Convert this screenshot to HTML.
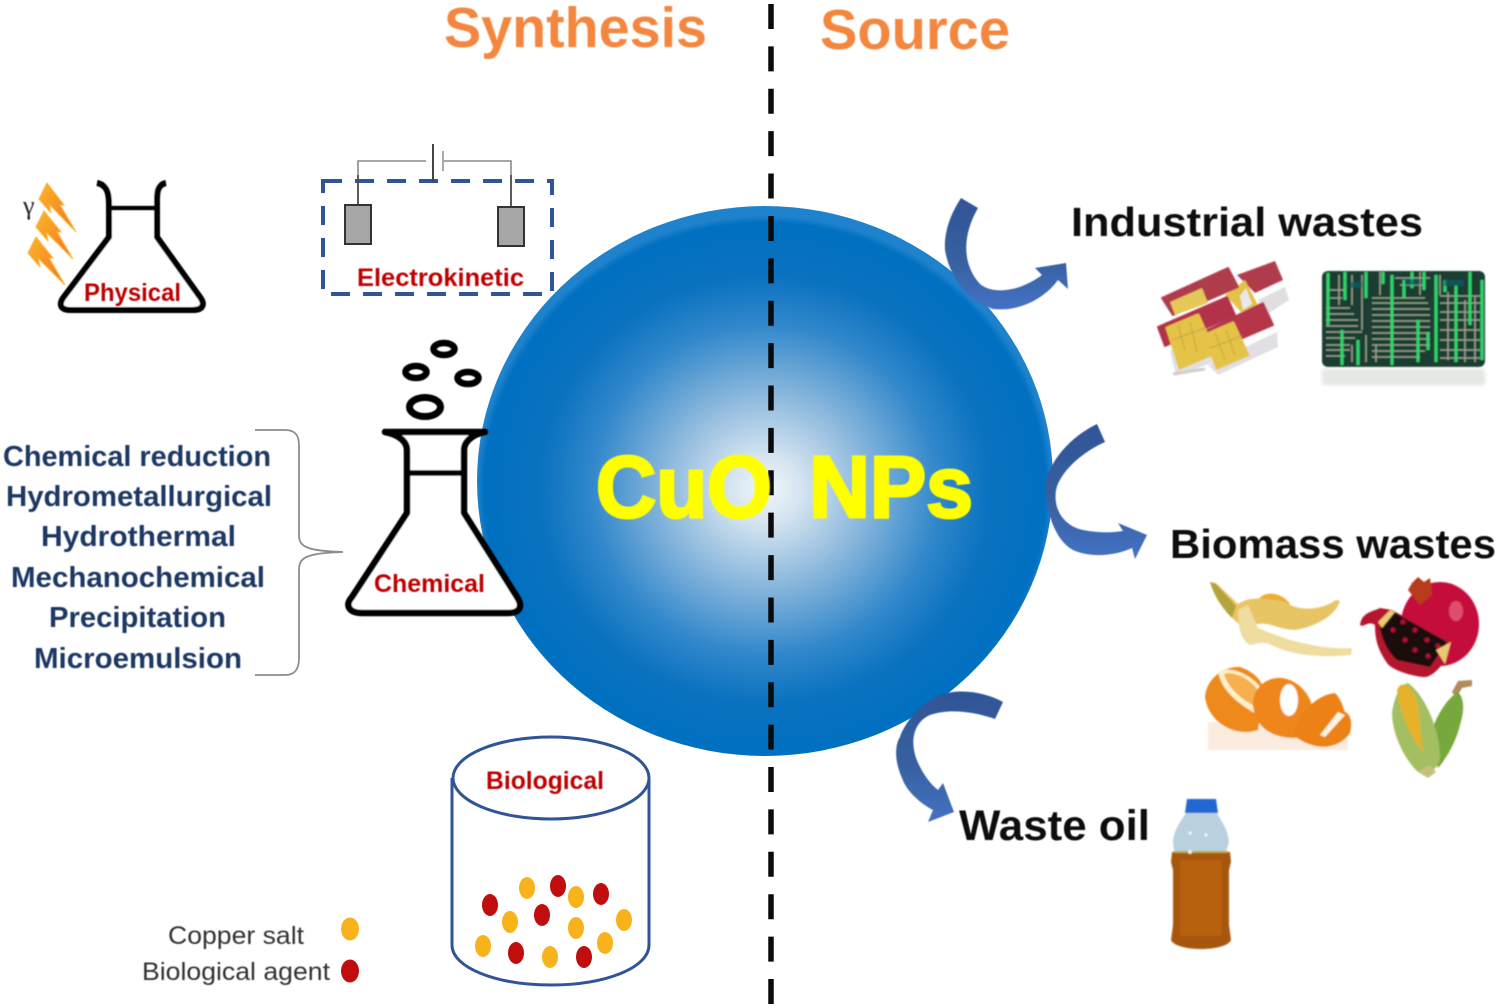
<!DOCTYPE html>
<html><head><meta charset="utf-8"><style>
html,body{margin:0;padding:0;background:#fff}
svg{display:block}
text{font-family:"Liberation Sans",sans-serif;font-weight:bold}
</style></head><body>
<svg width="1500" height="1008" viewBox="0 0 1500 1008" xmlns="http://www.w3.org/2000/svg">
<defs>
<radialGradient id="sph" cx="765" cy="490" r="288" gradientUnits="userSpaceOnUse" gradientTransform="translate(0 24) scale(1 .95)">
<stop offset="0" stop-color="#f2f6fa"/><stop offset=".12" stop-color="#d6e5f1"/><stop offset=".35" stop-color="#8ab7dc"/><stop offset=".6" stop-color="#3288cb"/><stop offset=".78" stop-color="#0a72c0"/><stop offset=".975" stop-color="#0070c0"/><stop offset="1" stop-color="#1f82cc"/>
</radialGradient>
<linearGradient id="arr" x1="0" y1="0" x2="0" y2="1"><stop offset="0" stop-color="#2f5597"/><stop offset=".55" stop-color="#37609f"/><stop offset="1" stop-color="#4472c4"/></linearGradient>
<linearGradient id="bolt" x1="0" y1="0" x2="1" y2="1"><stop offset="0" stop-color="#fbb62a"/><stop offset="1" stop-color="#f37021"/></linearGradient>
<filter id="b1" x="-5%" y="-5%" width="110%" height="110%"><feGaussianBlur stdDeviation=".9"/></filter>
<filter id="b2" x="-5%" y="-20%" width="110%" height="140%"><feGaussianBlur stdDeviation="1.8"/></filter>
<filter id="t" x="-5%" y="-20%" width="110%" height="140%"><feGaussianBlur stdDeviation=".5"/></filter>
</defs>
<rect width="1500" height="1008" fill="#fff"/>

<!-- sphere -->
<ellipse cx="765" cy="481" rx="288" ry="275" fill="url(#sph)"/>

<!-- divider -->
<line x1="771" y1="4" x2="771" y2="1006" stroke="#0a0a0a" stroke-width="5.5" stroke-dasharray="25 17.39"/>

<!-- physical flask -->
<g filter="url(#t)">
<g fill="#fff" stroke="#000" stroke-linejoin="round">
<path d="M97 183C108 185 109 195 109 205V237L63 298C58 306 62 310 70 310H193C202 310 206 305 200 297L157 237V205C157 195 156 185 166 183" stroke-width="6"/>
<line x1="108" y1="208" x2="158" y2="208" stroke-width="5"/>
</g>
<g fill="url(#bolt)" stroke="#f9b233" stroke-width="1">
<path d="M47 183L39 199L51 213L49 204L76 232L60 205L64 205Z"/>
<path d="M44 211L36 227L48 241L46 232L73 259L57 232L61 232Z"/>
<path d="M36 237L28 253L40 267L38 258L65 285L49 258L53 258Z"/>
</g>
</g>

<!-- electrokinetic -->
<rect x="323" y="181" width="229" height="113" fill="none" stroke="#2f5597" stroke-width="4" stroke-dasharray="19 13"/>
<g fill="none" stroke="#8a8a8a" stroke-width="1.6">
<path d="M358 205V161H426M444 161H511V208"/>
<line x1="433" y1="144" x2="433" y2="182" stroke="#444" stroke-width="2"/>
<line x1="443" y1="151" x2="443" y2="171" stroke="#aaa" stroke-width="2"/>
</g>
<line x1="358" y1="175" x2="358" y2="205" stroke="#444" stroke-width="1.6"/>
<line x1="511" y1="175" x2="511" y2="208" stroke="#444" stroke-width="1.6"/>
<rect x="345" y="205" width="26" height="39" fill="#a6a6a6" stroke="#333" stroke-width="2"/>
<rect x="498" y="207" width="26" height="39" fill="#a6a6a6" stroke="#333" stroke-width="2"/>

<!-- chemical flask -->
<g stroke="#000" stroke-linejoin="round" filter="url(#t)">
<path d="M385 432H485C475 434 464 440 464 450V513L517 597C524 608 518 613 508 613H362C350 613 344 606 352 597L407 513V450C407 440 396 434 385 432Z" fill="#fff" stroke-width="6.5"/>
<line x1="407" y1="473" x2="464" y2="473" stroke-width="5.5"/>
<g fill="none">
<ellipse cx="425" cy="407" rx="15.5" ry="9.5" stroke-width="7"/>
<ellipse cx="468" cy="378" rx="10.5" ry="6" stroke-width="6.5"/>
<ellipse cx="416" cy="372" rx="10.5" ry="6" stroke-width="6.5"/>
<ellipse cx="444" cy="349" rx="10.5" ry="6" stroke-width="6.5"/>
</g>
</g>

<!-- brace -->
<path d="M255 430H285C296 430 299 436 299 446V535C299 546 305 551 343 552C305 553 299 558 299 570V658C299 669 295 675 285 675H255" fill="none" stroke="#8c8c8c" stroke-width="1.8"/>

<!-- biological cylinder -->
<g fill="#fff" stroke="#2f5597" stroke-width="3">
<path d="M452 778V945C452 968 497 985 551 985C605 985 649 968 649 945V778"/>
<ellipse cx="551" cy="778" rx="98" ry="41"/>
</g>
<g fill="#f7b21c">
<ellipse cx="527" cy="888" rx="8" ry="11"/><ellipse cx="576" cy="897" rx="8" ry="11"/><ellipse cx="510" cy="922" rx="8" ry="11"/><ellipse cx="576" cy="928" rx="8" ry="11"/><ellipse cx="624" cy="920" rx="8" ry="11"/><ellipse cx="483" cy="946" rx="8" ry="11"/><ellipse cx="550" cy="957" rx="8" ry="11"/><ellipse cx="605" cy="943" rx="8" ry="11"/>
<ellipse cx="350" cy="929" rx="9" ry="11.5"/>
</g>
<g fill="#c00d0d">
<ellipse cx="490" cy="905" rx="8" ry="11"/><ellipse cx="558" cy="886" rx="8" ry="11"/><ellipse cx="601" cy="894" rx="8" ry="11"/><ellipse cx="542" cy="915" rx="8" ry="11"/><ellipse cx="516" cy="953" rx="8" ry="11"/><ellipse cx="584" cy="957" rx="8" ry="11"/>
<ellipse cx="350" cy="971" rx="9" ry="11.5"/>
</g>

<!-- curved arrows -->
<g filter="url(#t)">
<path d="M961 198L978 208C964 232 960 262 980 284C995 296 1022 290 1042 275L1035 268L1066 263L1068 289L1058 280C1045 298 1020 312 993 309C970 302 950 280 945 250C944 232 950 215 961 198Z" fill="url(#arr)"/>
<path d="M1097 424L1105 442C1082 452 1060 472 1056 490C1053 510 1064 524 1079 529C1095 533 1110 533 1123 531L1118 523L1147 535L1135 559L1132 548C1115 556 1090 558 1073 550C1058 542 1048 520 1045 490C1046 465 1068 438 1097 424Z" fill="url(#arr)"/>
<path d="M1003 702L995 719C975 712 950 708 930 715C914 722 910 740 916 758C922 773 930 784 938 790L943 783L954 812L928 822L933 810C918 802 906 790 902 778C894 760 895 745 900 737C905 722 925 695 953 692C972 690 990 695 1003 702Z" fill="url(#arr)"/>
</g>

<!-- SIM cards -->
<g filter="url(#b1)">
<path d="M1258 300L1285 287L1289 300L1263 317Z" fill="#dfdfe2"/>
<path d="M1170 350L1212 338L1214 362L1176 376Z" fill="#e0e0e4"/>
<path d="M1208 365L1277 332L1278 347L1218 375Z" fill="#e0e0e4"/>
<path d="M1173 374L1205 369" stroke="#cfcfcf" stroke-width="3"/>
<path d="M1237 275L1275 261L1283 280L1255 293Z" fill="#b03a4c"/>
<path d="M1225 295L1245 280L1258 305L1242 313Z" fill="#e4c24a"/>
<path d="M1240 296L1246 288L1252 304L1243 310Z" fill="#e9e9ea"/>
<path d="M1162 298L1228 268L1238 287L1173 315Z" fill="#b03a4c" stroke="#b03a4c" stroke-width="2" stroke-linejoin="round"/>
<path d="M1170 302L1202 288L1208 303L1175 315Z" fill="#e5c75a"/>
<path d="M1158 327L1227 297L1235 315L1165 346Z" fill="#b23248" stroke="#b23248" stroke-width="2" stroke-linejoin="round"/>
<path d="M1197 335L1263 303L1273 325L1203 355Z" fill="#b53449" stroke="#b53449" stroke-width="2" stroke-linejoin="round"/>
<path d="M1167 328L1198 315L1215 353L1180 368Z" fill="#e5c347" stroke="#e5c347" stroke-width="3" stroke-linejoin="round"/>
<path d="M1205 335L1233 323L1248 355L1217 368Z" fill="#e5c347" stroke="#e5c347" stroke-width="3" stroke-linejoin="round"/>
<g stroke="#bd9c3c" stroke-width="1" fill="none" opacity=".8"><path d="M1178 325L1185 350M1190 322L1197 352M1172 340L1205 328M1215 333L1225 360M1226 330L1235 355M1210 348L1242 336"/></g>
</g>

<!-- circuit board -->
<g filter="url(#b1)">
<rect x="1322" y="271" width="163" height="96" rx="6" fill="#1a3d30"/>
<g stroke="#a9b09a" stroke-width="1.3" fill="none" opacity=".95">
<path d="M1326 308H1350M1326 314H1354M1326 320H1358M1326 326H1358M1326 332H1362M1326 338H1355M1326 345H1350M1326 350H1350M1326 356H1345M1328 290H1345M1330 298H1342"/>
<path d="M1372 298H1425M1372 303H1428M1372 309H1430M1372 315H1430M1372 321H1430M1372 327H1430M1372 333H1430M1372 339H1430M1372 345H1430M1372 351H1425M1372 357H1420"/>
<path d="M1440 296H1482M1440 303H1482M1440 312H1480M1440 320H1480M1440 330H1480M1440 340H1480M1440 350H1480M1440 358H1480M1395 278H1430M1400 285H1425"/>
<path d="M1339 275V305M1352 275V305M1362 275V330M1380 272V295M1420 272V295M1448 292V360M1465 300V362M1475 296V362M1366 335V362M1376 345V362M1352 345V362M1440 275V295"/>
</g>
<g stroke="#2fd46c" stroke-width="3" fill="none">
<path d="M1328 273V325M1345 272V300M1366 272V298M1383 272V284M1392 275V365M1412 272V288M1424 272V290M1436 275V362M1470 272V325M1482 280V360M1456 285V362M1342 330V365M1358 340V365M1404 280V298M1445 280V292M1418 320V362M1428 332V350"/>
</g>
<g stroke="#0d5f66" stroke-width="6" fill="none" opacity=".7"><path d="M1350 285H1362M1444 283H1464M1405 282H1420"/></g>
<rect x="1322" y="369" width="163" height="16" fill="#ccd6cd" opacity=".55" filter="url(#b2)"/>
</g>

<!-- banana -->
<g filter="url(#b1)">
<path d="M1258 600C1264 590 1282 592 1290 604L1270 615Z" fill="#eeae35"/>
<path d="M1210 582L1216 583L1238 604C1250 596 1265 598 1285 602L1290 605C1305 612 1325 608 1336 600L1340 601C1335 618 1310 628 1295 630C1280 630 1270 622 1258 624L1240 625C1228 615 1215 598 1210 582Z" fill="#e7c565"/>
<path d="M1210 582L1216 584L1236 606L1232 618C1222 608 1214 596 1210 582Z" fill="#b5a33c"/>
<path d="M1238 610L1248 605L1258 628C1285 640 1320 650 1352 648L1351 655C1320 658 1290 655 1272 645C1260 640 1255 645 1250 645C1240 640 1238 625 1238 610Z" fill="#efdc9f"/>
</g>

<!-- pomegranate -->
<g filter="url(#b1)">
<ellipse cx="1440" cy="624" rx="39" ry="42" fill="#c50e3a"/>
<path d="M1408 590L1412 583L1418 577L1424 582L1430 578L1432 595L1420 605Z" fill="#b83a1a"/>
<ellipse cx="1456" cy="611" rx="7" ry="10" fill="#ea6a85" opacity=".7"/>
<path d="M1360 625C1362 612 1372 612 1380 608L1392 610L1452 643L1448 655C1440 670 1430 678 1423 677C1405 675 1390 668 1387 663C1378 650 1375 640 1375 625C1368 620 1364 628 1360 625Z" fill="#b4122f"/>
<path d="M1380 627L1393 612L1447 642L1430 667L1397 660C1388 652 1382 640 1380 627Z" fill="#1c0a10"/>
<g fill="#b31030"><circle cx="1393" cy="630" r="2.5"/><circle cx="1403" cy="622" r="2.5"/><circle cx="1405" cy="640" r="2.5"/><circle cx="1415" cy="630" r="2.5"/><circle cx="1415" cy="650" r="2.5"/><circle cx="1427" cy="640" r="2.5"/><circle cx="1428" cy="656" r="2.5"/><circle cx="1438" cy="646" r="2.5"/></g>
<path d="M1436 650L1451 642L1445 664Z" fill="#e8c870"/>
<path d="M1378 622L1390 610L1395 612L1382 628Z" fill="#e8c870"/>
</g>

<!-- orange -->
<g filter="url(#b1)">
<rect x="1208" y="722" width="140" height="28" fill="#fbe6d4" opacity=".75"/>
<path d="M1205 697C1206 680 1222 666 1240 667C1255 672 1263 682 1263 690L1258 730C1235 738 1208 722 1205 697Z" fill="#ee8a1c"/>
<path d="M1218 672C1232 664 1256 678 1262 690L1258 715C1240 705 1222 692 1218 672Z" fill="#fdf0c8"/>
<path d="M1224 674C1236 670 1254 682 1259 692L1256 707C1242 700 1228 688 1224 674Z" fill="#f6b050"/>
<path d="M1253 700C1256 685 1268 677 1282 678C1298 680 1312 695 1313 712C1312 725 1305 735 1295 738C1270 738 1252 725 1253 700Z" fill="#ee861d"/>
<ellipse cx="1289" cy="700" rx="9" ry="16" fill="#fff"/>
<path d="M1293 735C1298 715 1315 695 1335 693C1342 700 1343 708 1345 712C1352 715 1352 725 1350 733C1338 750 1315 752 1293 735Z" fill="#ec8218"/>
<path d="M1320 735L1338 712L1345 715L1325 737Z" fill="#fff4df"/>
</g>

<!-- corn -->
<g filter="url(#b1)">
<path d="M1452 692L1458 681L1472 680L1472 686L1462 688L1456 698Z" fill="#b38a5c"/>
<path d="M1430 735C1438 712 1448 698 1458 692C1466 700 1463 715 1460 725C1455 745 1445 760 1438 768Z" fill="#76a83e"/>
<path d="M1392 712C1395 695 1400 685 1408 683C1425 695 1440 730 1440 758C1438 770 1428 775 1418 772C1405 760 1392 735 1392 712Z" fill="#a3bf62"/>
<path d="M1397 690C1401 680 1412 683 1418 705L1423 752C1412 740 1400 715 1397 690Z" fill="#e6b22c"/>
<path d="M1418 772L1428 778L1436 772L1430 765Z" fill="#c8c07a"/>
</g>

<!-- bottle -->
<g filter="url(#b1)">
<path d="M1187 799H1216L1218 813H1185Z" fill="#2468d2"/>
<path d="M1186 813H1217C1222 822 1228 830 1229 842L1226 852H1174L1173 842C1174 830 1180 822 1186 813Z" fill="#b9d1de"/>
<path d="M1172 852H1230L1231 862L1229 870V925L1231 940C1226 952 1176 952 1171 940L1173 925V870L1171 862Z" fill="#a75610"/>
<rect x="1180" y="860" width="42" height="76" rx="3" fill="#bc6606" opacity=".75"/>
<path d="M1174 852H1228" stroke="#b7a83f" stroke-width="2"/>
<g fill="#fff" opacity=".8"><circle cx="1190" cy="833" r="1.6"/><circle cx="1206" cy="835" r="1.6"/><circle cx="1190" cy="852" r="2"/></g>
</g>

<!-- text -->
<g filter="url(#t)">
<text x="444" y="47" font-size="57" fill="#f4873f" textLength="263" lengthAdjust="spacingAndGlyphs">Synthesis</text>
<text x="820" y="49" font-size="57" fill="#f4873f" textLength="190" lengthAdjust="spacingAndGlyphs">Source</text>
<text x="1071" y="236" font-size="41" fill="#111" textLength="352" lengthAdjust="spacingAndGlyphs">Industrial wastes</text>
<text x="1170" y="558" font-size="41" fill="#111" textLength="326" lengthAdjust="spacingAndGlyphs">Biomass wastes</text>
<text x="959" y="840" font-size="43" fill="#111" textLength="191" lengthAdjust="spacingAndGlyphs">Waste oil</text>
<text x="596" y="517" font-size="87" fill="#ffff00" textLength="176" lengthAdjust="spacingAndGlyphs" stroke="#ffff00" stroke-width="3">CuO</text>
<text x="809" y="517" font-size="87" fill="#ffff00" textLength="164" lengthAdjust="spacingAndGlyphs" stroke="#ffff00" stroke-width="3">NPs</text>

<g font-size="29" fill="#1f3864">
<text x="3" y="466" textLength="268" lengthAdjust="spacingAndGlyphs">Chemical reduction</text>
<text x="6" y="506" textLength="266" lengthAdjust="spacingAndGlyphs">Hydrometallurgical</text>
<text x="41" y="546" textLength="195" lengthAdjust="spacingAndGlyphs">Hydrothermal</text>
<text x="11" y="587" textLength="254" lengthAdjust="spacingAndGlyphs">Mechanochemical</text>
<text x="49" y="627" textLength="177" lengthAdjust="spacingAndGlyphs">Precipitation</text>
<text x="34" y="668" textLength="208" lengthAdjust="spacingAndGlyphs">Microemulsion</text>
</g>
<g font-size="25" fill="#c00000">
<text x="84" y="301" textLength="97" lengthAdjust="spacingAndGlyphs">Physical</text>
<text x="357" y="286" textLength="167" lengthAdjust="spacingAndGlyphs">Electrokinetic</text>
<text x="374" y="592" textLength="111" lengthAdjust="spacingAndGlyphs">Chemical</text>
<text x="486" y="789" textLength="118" lengthAdjust="spacingAndGlyphs">Biological</text>
</g>
<text x="168" y="944" font-size="25" fill="#333" style="font-weight:normal" textLength="136" lengthAdjust="spacingAndGlyphs">Copper salt</text>
<text x="142" y="980" font-size="25" fill="#333" style="font-weight:normal" textLength="188" lengthAdjust="spacingAndGlyphs">Biological agent</text>
<text x="23" y="214" font-size="26" fill="#222" style="font-weight:normal;font-family:'Liberation Serif',serif">γ</text>
</g>
</svg>
</body></html>
